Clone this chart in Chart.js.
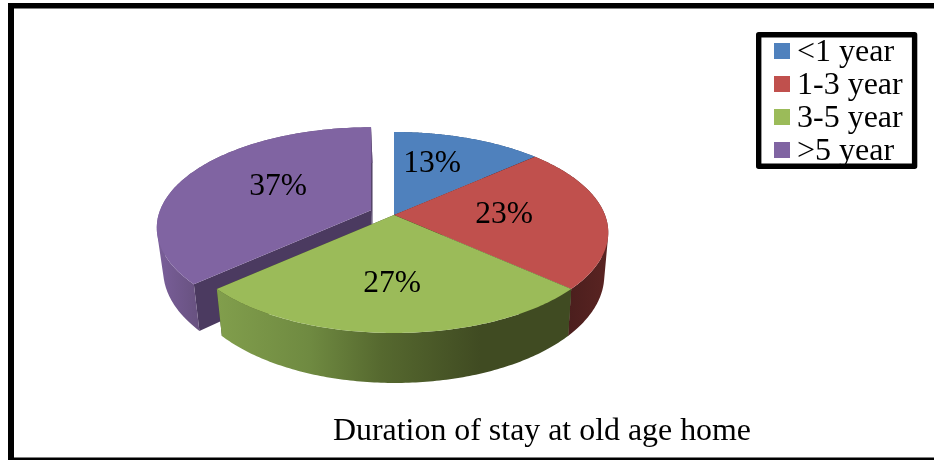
<!DOCTYPE html>
<html>
<head>
<meta charset="utf-8">
<style>html,body{margin:0;padding:0;background:#fff}canvas{display:block}</style>
<script src="https://cdn.jsdelivr.net/npm/chart.js@4/dist/chart.umd.min.js"></script>
</head>
<body>
<canvas id="c" width="934" height="460"></canvas>
<script>
const categories = ['<1 year', '1-3 year', '3-5 year', '>5 year'];
const shares = [13.4, 23.3, 26.6, 36.7];
const explode = [0, 0, 0, 0.12];
const topColors = ['#4f81bd', '#c0504d', '#9bbb59', '#8064a2'];
const chartTitle = 'Duration of stay at old age home';
const SERIF = '"Liberation Serif","Times New Roman",serif';

// view projection of the pie disc
const CX = 394, CY = 215, A = 211, B = 97.45, K = 0.174;
const project = (u, v) => {
  const w = 1 - K * v;
  return [CX + A * u / w, CY + B * v / w];
};
const lower = ([x, y]) => [10 + 0.977 * x, y + 47 + 0.07 * (y - 290)];
const labelAt = [[432, 164], [504, 215], [392, 284], [278, 187]];

function poly(ctx, pts, fill) {
  ctx.beginPath();
  pts.forEach((p, i) => i ? ctx.lineTo(p[0], p[1]) : ctx.moveTo(p[0], p[1]));
  ctx.closePath();
  ctx.fillStyle = fill;
  ctx.fill();
}
// all quads wound the same way in one path, so their union fills without seams
function sweep(ctx, arcPts, fill) {
  ctx.beginPath();
  for (let k = 0; k < arcPts.length - 1; k++) {
    let q = [arcPts[k], arcPts[k + 1], lower(arcPts[k + 1]), lower(arcPts[k])];
    let area = 0;
    q.forEach((p, i) => {
      const n = q[(i + 1) % 4];
      area += p[0] * n[1] - n[0] * p[1];
    });
    if (area < 0) q = q.reverse();
    q.forEach((p, i) => i ? ctx.lineTo(p[0], p[1]) : ctx.moveTo(p[0], p[1]));
    ctx.closePath();
  }
  ctx.fillStyle = fill;
  ctx.fill('nonzero');
}
function hGrad(ctx, x0, x1, stops) {
  const g = ctx.createLinearGradient(x0, 0, x1, 0);
  stops.forEach(([o, c]) => g.addColorStop(o, c));
  return g;
}

const pie3d = {
  id: 'pie3d',
  afterLayout(chart) {
    chart.legend.left = 772;
    chart.legend.top = 35.5;
    chart.titleBlock.left = 333;
    chart.titleBlock.right = 751;
    chart.titleBlock.top = 412;
  },
  beforeDraw(chart) {
    const c = chart.ctx;
    c.save();
    c.fillStyle = '#fff';
    c.fillRect(0, 0, 934, 460);
    c.fillStyle = '#000';
    c.fillRect(8, 3, 926, 5.5);
    c.fillRect(8, 3, 6, 457);
    c.fillRect(8, 457.5, 926, 2.5);
    c.restore();
  },
  beforeDatasetsDraw(chart) {
    const c = chart.ctx;
    const arcs = chart.getDatasetMeta(0).data;
    const rimFill = [
      () => '#2f4d72',
      () => hGrad(c, 566, 608, [[0, '#4a1e1d'], [1, '#5a2422']]),
      () => hGrad(c, 218, 480, [[0, '#819e4c'], [0.35, '#6f8a41'], [0.62, '#56692f'], [1, '#404b22']]),
      () => hGrad(c, 157, 200, [[0, '#7a5f9a'], [1, '#67517f']])
    ];
    const wallFill = ['#2f4d72', '#4a1e1d', '#404b22', '#4b3a60'];
    c.save();
    [3, 0, 1, 2].forEach(i => {
      const a = arcs[i];
      const s = a.startAngle, e = a.endAngle, m = (s + e) / 2;
      const shift = project(explode[i] * Math.cos(m), explode[i] * Math.sin(m));
      const dx = shift[0] - CX, dy = shift[1] - CY;
      const steps = 120;
      const arcPts = [];
      for (let k = 0; k <= steps; k++) {
        const t = s + (e - s) * k / steps;
        const p = project(Math.cos(t), Math.sin(t));
        arcPts.push([p[0] + dx, p[1] + dy]);
      }
      const apex = shift;
      const apexLow = lower(apex);
      const first = arcPts[0], last = arcPts[steps];
      poly(c, [apex, first, lower(first), apexLow], wallFill[i]);
      poly(c, [apex, last, lower(last), apexLow], wallFill[i]);
      sweep(c, arcPts, rimFill[i]());
      poly(c, [apex].concat(arcPts), a.options.backgroundColor);
    });
    c.fillStyle = '#000';
    c.font = '31.5px ' + SERIF;
    c.textAlign = 'center';
    c.textBaseline = 'middle';
    shares.forEach((v, i) => c.fillText(Math.round(v) + '%', labelAt[i][0], labelAt[i][1]));
    c.restore();
    return false;
  },
  afterDraw(chart) {
    const c = chart.ctx;
    c.save();
    c.strokeStyle = '#000';
    c.lineWidth = 5.4;
    c.lineJoin = 'round';
    c.strokeRect(758.7, 34.7, 155.9, 131.6);
    categories.forEach((_, i) => {
      c.fillStyle = topColors[i];
      c.fillRect(774, 43 + 33 * i, 16, 16);
    });
    c.restore();
  }
};

new Chart(document.getElementById('c'), {
  type: 'pie',
  data: {
    labels: categories,
    datasets: [{ data: shares, backgroundColor: topColors, borderWidth: 0 }]
  },
  options: {
    responsive: false,
    animation: false,
    events: [],
    plugins: {
      tooltip: { enabled: false },
      title: {
        display: true,
        text: chartTitle,
        position: 'bottom',
        color: '#000',
        font: { family: SERIF, size: 32, weight: 'normal' },
        padding: 0
      },
      legend: {
        position: 'right',
        align: 'start',
        labels: {
          color: '#000',
          font: { family: SERIF, size: 32 },
          boxWidth: 8,
          boxHeight: 8,
          padding: 1,
          generateLabels: chart => chart.data.labels.map((t, i) => ({
            text: t, index: i, fillStyle: 'rgba(0,0,0,0)', strokeStyle: 'rgba(0,0,0,0)', lineWidth: 0
          }))
        }
      }
    }
  },
  plugins: [pie3d]
});
</script>
</body>
</html>
